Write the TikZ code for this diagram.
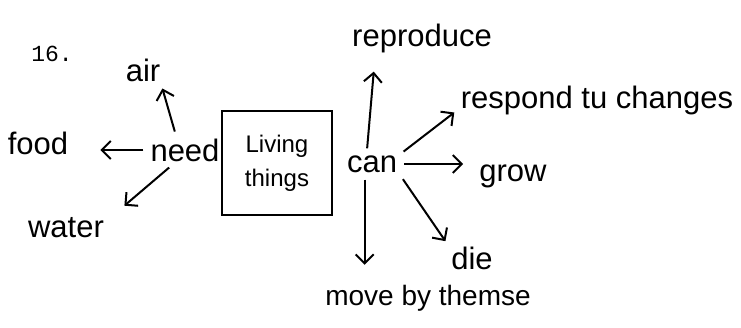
\documentclass[tikz,border=0pt]{standalone}
\usepackage{fontspec}
\setmainfont{Liberation Sans}
\setmonofont{Liberation Mono}
\usetikzlibrary{arrows.meta}
\begin{document}
\begin{tikzpicture}[x=1pt,y=-1pt,
  word/.style={font=\fontsize{31}{33}\selectfont, inner sep=4pt},
  conn/.style={line width=2pt, shorten <=3pt, shorten >=3pt, -{Straight Barb[length=9pt,width=18pt,line width=2pt]}},
  boxed/.style={draw, line width=2pt, minimum width=110pt, minimum height=104pt, align=center, font=\fontsize{24}{34}\selectfont}]
\useasboundingbox (0,0) rectangle (741,327);
\fill[white] (0,0) rectangle (741,327);
\node[font=\ttfamily\fontsize{23}{25}\selectfont] (num) at (52,54) {16.};
\node[word] (air) at (143,70) {air};
\node[word] (food) at (38,143) {food};
\node[word] (need) at (185,150) {need};
\node[word] (water) at (66,228) {water};
\node[boxed] (lt) at (277,163) {Living\\things};
\node[word] (can) at (372,164) {can};
\node[word] (repro) at (422,38) {reproduce};
\node[word] (resp) at (597,100) {respond tu changes};
\node[word] (grow) at (513,176) {grow};
\node[word] (die) at (472,258) {die};
\node[word,font=\fontsize{28}{30}\selectfont] (move) at (428,298) {move by themse};
\draw[conn] (need.121) -- (air.-40);
\draw[conn, shorten >=28pt] (need.west) -- (need.west -| food.east);
\draw[conn] (need.-131) -- ([shift={(14pt,6pt)}]water.north east);
\draw[conn] (can.112) -- ([xshift=26pt,yshift=-12pt]repro.south west);
\draw[conn] (can.20) -- ([yshift=8pt]resp.south west);
\draw[conn, shorten >=12pt] (can.east) -- (can.east -| grow.west);
\draw[conn] (can.south east) -- (die.150);
\draw[conn, shorten >=16pt] (can.-120) -- (can.-120 |- move.north);
\end{tikzpicture}
\end{document}
